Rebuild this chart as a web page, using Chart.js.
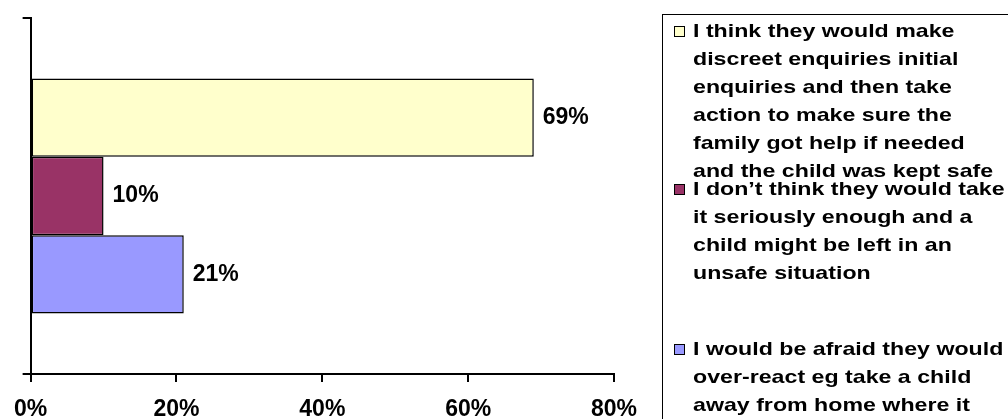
<!DOCTYPE html>
<html>
<head>
<meta charset="utf-8">
<script src="https://cdn.jsdelivr.net/npm/chart.js@4.4.1/dist/chart.umd.min.js"></script>
<style>
  html, body { margin: 0; padding: 0; background: #fff; overflow: hidden; }
  #wrap { position: relative; width: 1008px; height: 419px; overflow: hidden; }
  #chartBox { position: absolute; left: 0; top: 0; width: 1008px; height: 419px; }
  #legend { position: absolute; left: 662px; top: 14px; width: 420px; height: 460px;
            border: 1.5px solid #000; box-sizing: border-box; }
  .sw { position: absolute; width: 11px; height: 11px; border: 1px solid #000; box-sizing: border-box; }
  .txt { position: absolute; font-family: "Liberation Sans", Arial, sans-serif; font-weight: bold;
         font-size: 19px; line-height: 28px; color: #000; white-space: nowrap;
         transform: scaleX(1.22); transform-origin: 0 0; }
</style>
</head>
<body>
<div id="wrap">
  <div id="chartBox"><canvas id="c"></canvas></div>
  <div id="legend"></div>
</div>
<script>
const categories = [''];
const seriesLabels = [
  'I think they would make discreet enquiries initial enquiries and then take action to make sure the family got help if needed and the child was kept safe',
  'I don\u2019t think they would take it seriously enough and a child might be left in an unsafe situation',
  'I would be afraid they would over-react eg take a child away from home where it'
];
const legendLines = [
  ['I think they would make', 'discreet enquiries initial', 'enquiries and then take', 'action to make sure the', 'family got help if needed', 'and the child was kept safe'],
  ['I don\u2019t think they would take', 'it seriously enough and a', 'child might be left in an', 'unsafe situation'],
  ['I would be afraid they would', 'over-react eg take a child', 'away from home where it']
];
const seriesValues = [69, 10, 21];
const seriesColors = ['#FFFFCC', '#993366', '#9999FF'];
const xTickValues = [0, 20, 40, 60, 80];
const xTickLabels = ['0%', '20%', '40%', '60%', '80%'];

const valueLabels = {
  id: 'valueLabels',
  afterDatasetsDraw(chart) {
    const ctx = chart.ctx;
    ctx.save();
    ctx.font = 'bold 23px "Liberation Sans", Arial, sans-serif';
    ctx.fillStyle = '#000';
    ctx.textAlign = 'left';
    ctx.textBaseline = 'middle';
    chart.data.datasets.forEach((ds, i) => {
      const meta = chart.getDatasetMeta(i);
      meta.data.forEach((el, j) => {
        ctx.fillText(ds.data[j] + '%', el.x + 9, el.y);
      });
    });
    ctx.restore();
  }
};

new Chart(document.getElementById('c'), {
  type: 'bar',
  data: {
    labels: categories,
    datasets: seriesLabels.map((lab, i) => ({
      label: lab,
      data: [seriesValues[i]],
      backgroundColor: seriesColors[i],
      borderColor: '#000',
      borderWidth: 1.5,
      borderSkipped: false,
      categoryPercentage: 0.66,
      barPercentage: 1.0
    }))
  },
  options: {
    indexAxis: 'y',
    responsive: true,
    maintainAspectRatio: false,
    animation: false,
    devicePixelRatio: 1,
    layout: { padding: { left: 21, top: 18, right: 394, bottom: 0 } },
    plugins: { legend: { display: false }, tooltip: { enabled: false } },
    scales: {
      x: {
        min: 0, max: 80,
        afterFit: s => { s.height = 45; },
        afterBuildTicks: s => { s.ticks = xTickValues.map(v => ({ value: v })); },
        ticks: {
          padding: 14,
          color: '#000',
          font: { family: '"Liberation Sans", Arial, sans-serif', size: 23, weight: 'bold' },
          callback: (v) => xTickLabels[xTickValues.indexOf(v)],
          maxRotation: 0, autoSkip: false
        },
        grid: { drawOnChartArea: false, drawTicks: true, tickLength: 8, color: '#000', lineWidth: 2 },
        border: { display: true, color: '#000', width: 2 }
      },
      y: {
        afterFit: s => { s.width = 8; },
        ticks: { display: false },
        grid: { drawOnChartArea: false, drawTicks: true, tickLength: 8, color: '#000', lineWidth: 2, offset: true },
        border: { display: true, color: '#000', width: 2 }
      }
    }
  },
  plugins: [valueLabels]
});

// HTML legend
const legendEl = document.getElementById('legend');
const baselines = [38, 196, 356];
const legLeft = 662, legTop = 14;
legendLines.forEach((lines, i) => {
  const sw = document.createElement('div');
  sw.className = 'sw';
  sw.style.background = seriesColors[i];
  sw.style.left = (674 - legLeft - 1.5) + 'px';
  sw.style.top = (baselines[i] - 12 - legTop - 1.5) + 'px';
  legendEl.appendChild(sw);
  const t = document.createElement('div');
  t.className = 'txt';
  t.style.left = (693 - legLeft - 1.5) + 'px';
  t.style.top = (baselines[i] - 20.6 - legTop - 1.5) + 'px';
  t.innerHTML = lines.join('<br>');
  legendEl.appendChild(t);
});
</script>
</body>
</html>
